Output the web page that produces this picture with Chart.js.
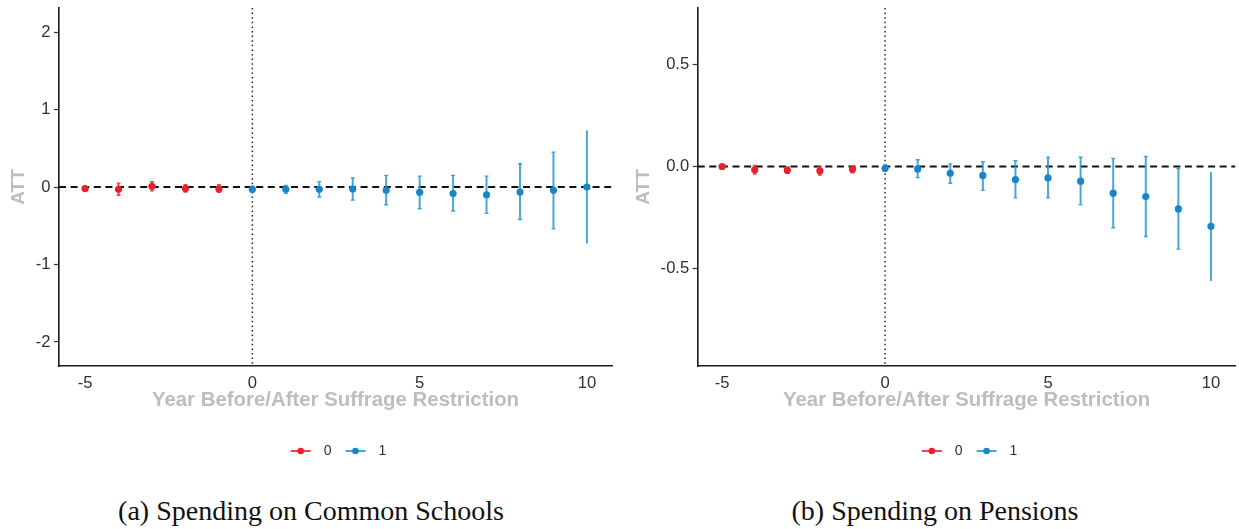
<!DOCTYPE html>
<html>
<head>
<meta charset="utf-8">
<script src="https://cdn.jsdelivr.net/npm/chart.js@4.4.1/dist/chart.umd.min.js"></script>
<style>
  html, body { margin: 0; padding: 0; background: #ffffff; }
  #page { position: relative; width: 1239px; height: 529px; overflow: hidden; background: #ffffff; }
  canvas { position: absolute; top: 0; }
  #cvA { left: 0; }
  #cvB { left: 620px; }
  .caption {
    position: absolute; top: 495px; width: 620px; text-align: center;
    font-family: "Liberation Serif", "DejaVu Serif", serif; font-size: 28px; color: #111;
    white-space: nowrap;
  }
</style>
</head>
<body>
<div id="page">
  <canvas id="cvA" width="620" height="468"></canvas>
  <canvas id="cvB" width="619" height="468"></canvas>
  <div class="caption" style="left:1px;">(a) Spending on Common Schools</div>
  <div class="caption" style="left:625px;">(b) Spending on Pensions</div>
</div>
<script>
// Event time relative to the suffrage restriction
const years  = [-5, -4, -3, -2, -1, 0, 1, 2, 3, 4, 5, 6, 7, 8, 9, 10];
// Group of each year: 0 = before, 1 = after
const period = [0, 0, 0, 0, 0, 1, 1, 1, 1, 1, 1, 1, 1, 1, 1, 1];
const groupLabels = ['0', '1'];

// (a) Spending on common schools: ATT with confidence bounds
const schoolsAtt  = [-0.02, -0.03, 0.01, -0.02, -0.026, -0.03, -0.03, -0.03, -0.026, -0.043, -0.069, -0.085, -0.10, -0.065, -0.043, 0.0];
const schoolsLow  = [-0.04, -0.107, -0.05, -0.065, -0.07, -0.07, -0.08, -0.13, -0.17, -0.23, -0.28, -0.31, -0.34, -0.42, -0.54, -0.73];
const schoolsHigh = [0.0, 0.05, 0.07, 0.03, 0.03, 0.01, 0.02, 0.07, 0.116, 0.15, 0.14, 0.15, 0.14, 0.30, 0.45, 0.73];

// (b) Spending on pensions: ATT with confidence bounds
const pensionsAtt  = [0.0, -0.016, -0.018, -0.021, -0.013, -0.009, -0.012, -0.033, -0.044, -0.064, -0.056, -0.072, -0.131, -0.147, -0.208, -0.293];
const pensionsLow  = [-0.006, -0.037, -0.033, -0.042, -0.031, -0.024, -0.054, -0.082, -0.117, -0.154, -0.154, -0.187, -0.300, -0.343, -0.405, -0.561];
const pensionsHigh = [0.006, 0.005, -0.003, 0.0, 0.002, 0.007, 0.033, 0.013, 0.023, 0.028, 0.046, 0.045, 0.040, 0.049, -0.010, -0.028];

// Tick values
const xTicks         = [-5, 0, 5, 10];
const schoolsYTicks  = [-2, -1, 0, 1, 2];
const pensionsYTicks = [-0.5, 0, 0.5];

const X_TITLE = 'Year Before/After Suffrage Restriction';
const Y_TITLE = 'ATT';

const POINT_COLORS = ['#E8202C', '#1686C6'];
const BAR_COLORS   = ['rgba(234,40,52,0.85)', 'rgba(40,150,212,0.85)'];
const TICK_COLOR = '#303030';
const TITLE_COLOR = '#BDBDBD';
const SANS = '"Liberation Sans", Arial, sans-serif';

// Legend key: short line with a dot in the middle
function legendKey(i) {
  const c = document.createElement('canvas');
  c.width = 22; c.height = 8;
  const g = c.getContext('2d');
  g.strokeStyle = BAR_COLORS[i];
  g.lineWidth = 2;
  g.beginPath(); g.moveTo(1, 4); g.lineTo(21, 4); g.stroke();
  g.fillStyle = POINT_COLORS[i];
  g.beginPath(); g.arc(11, 4, 3.3, 0, Math.PI * 2); g.fill();
  return c;
}
const legendKeys = [legendKey(0), legendKey(1)];

// Zero reference lines: dashed horizontal, dotted vertical
const refLines = {
  id: 'refLines',
  beforeDatasetsDraw(chart) {
    const {ctx, chartArea: a, scales: {x, y}} = chart;
    ctx.save();
    ctx.beginPath(); ctx.rect(a.left, a.top, a.right - a.left, a.bottom - a.top); ctx.clip();
    const x0 = x.getPixelForValue(0);
    ctx.strokeStyle = '#222';
    ctx.lineWidth = 1.5;
    ctx.setLineDash([1.5, 3.1]);
    ctx.beginPath(); ctx.moveTo(x0, a.top); ctx.lineTo(x0, a.bottom); ctx.stroke();
    const y0 = y.getPixelForValue(0);
    ctx.strokeStyle = '#111';
    ctx.lineWidth = 2;
    ctx.setLineDash([7, 4.6]);
    ctx.beginPath(); ctx.moveTo(a.left, y0); ctx.lineTo(a.right, y0); ctx.stroke();
    ctx.restore();
  }
};

// Vertical confidence bars with small caps
const errorBars = {
  id: 'errorBars',
  beforeDatasetsDraw(chart) {
    const {ctx, scales: {y}} = chart;
    const lastYear = years[years.length - 1];
    ctx.save();
    chart.data.datasets.forEach((ds, di) => {
      const meta = chart.getDatasetMeta(di);
      ctx.strokeStyle = BAR_COLORS[di];
      ctx.lineWidth = 2;
      meta.data.forEach((el, i) => {
        const raw = ds.data[i];
        const top = y.getPixelForValue(raw.hi);
        const bot = y.getPixelForValue(raw.lo);
        ctx.beginPath(); ctx.moveTo(el.x, top); ctx.lineTo(el.x, bot); ctx.stroke();
        if (raw.x !== lastYear) {
          ctx.lineWidth = 1.4;
          ctx.beginPath();
          ctx.moveTo(el.x - 2, top); ctx.lineTo(el.x + 2, top);
          ctx.moveTo(el.x - 2, bot); ctx.lineTo(el.x + 2, bot);
          ctx.stroke();
          ctx.lineWidth = 2;
        }
      });
    });
    ctx.restore();
  }
};

function makePanel(canvasId, att, lo, hi, yTicks, yMin, yMax, xMin, xMax, yAxisWidth, yTitlePad, fmt, padRight) {
  const datasets = groupLabels.map((label, g) => ({
    label,
    data: years.map((yr, i) => ({x: yr, y: att[i], lo: lo[i], hi: hi[i]}))
               .filter((d, i) => period[i] === g),
    backgroundColor: POINT_COLORS[g],
    borderWidth: 0,
    pointRadius: 3.6,
    pointHoverRadius: 3.6,
    showLine: false
  }));

  return new Chart(document.getElementById(canvasId), {
    type: 'scatter',
    data: {datasets},
    plugins: [refLines, errorBars],
    options: {
      responsive: false,
      animation: false,
      events: [],
      layout: {padding: {left: 0, right: padRight, top: 8, bottom: 0}},
      scales: {
        x: {
          type: 'linear', min: xMin, max: xMax,
          afterBuildTicks: s => { s.ticks = xTicks.map(v => ({value: v})); },
          afterFit: s => { s.height = 70; s.paddingLeft = 0; s.paddingRight = 0; },
          grid: {display: false, drawTicks: false},
          border: {display: true, color: '#1a1a1a', width: 1.6},
          ticks: {color: TICK_COLOR, padding: 7, font: {family: SANS, size: 16.6}, callback: v => String(v)},
          title: {display: true, text: X_TITLE, color: TITLE_COLOR,
                  font: {family: SANS, size: 20.4, weight: 'bold'}, padding: {top: 0, bottom: 23.5}}
        },
        y: {
          type: 'linear', min: yMin, max: yMax,
          afterBuildTicks: s => { s.ticks = yTicks.map(v => ({value: v})); },
          afterFit: s => { s.width = yAxisWidth; s.paddingTop = 0; s.paddingBottom = 0; },
          grid: {display: true, drawOnChartArea: false, drawTicks: true, tickLength: 5,
                 tickColor: '#333', tickWidth: 1.2},
          border: {display: true, color: '#1a1a1a', width: 1.6},
          ticks: {color: TICK_COLOR, padding: 3.5, font: {family: SANS, size: 16.6}, callback: fmt},
          title: {display: true, text: Y_TITLE, color: TITLE_COLOR,
                  font: {family: SANS, size: 19, weight: 'bold'}, padding: {top: yTitlePad, bottom: 0}}
        }
      },
      plugins: {
        tooltip: {enabled: false},
        legend: {
          display: true, position: 'bottom', align: 'center', fullSize: false,
          labels: {
            usePointStyle: true, pointStyleWidth: 32, padding: 8,
            color: TICK_COLOR, font: {family: SANS, size: 14},
            generateLabels: chart => chart.data.datasets.map((ds, i) => ({
              text: ds.label, pointStyle: legendKeys[i], fillStyle: POINT_COLORS[i],
              strokeStyle: POINT_COLORS[i], lineWidth: 0, fontColor: TICK_COLOR,
              hidden: false, datasetIndex: i
            }))
          }
        }
      }
    }
  });
}

makePanel('cvA', schoolsAtt, schoolsLow, schoolsHigh, schoolsYTicks,
          -2.31, 2.31, -5.78, 10.75, 59, 7.6, v => String(v), 8);
makePanel('cvB', pensionsAtt, pensionsLow, pensionsHigh, pensionsYTicks,
          -0.978, 0.777, -5.75, 10.75, 77.7, 12.3, v => v.toFixed(1), 3);
</script>
</body>
</html>
